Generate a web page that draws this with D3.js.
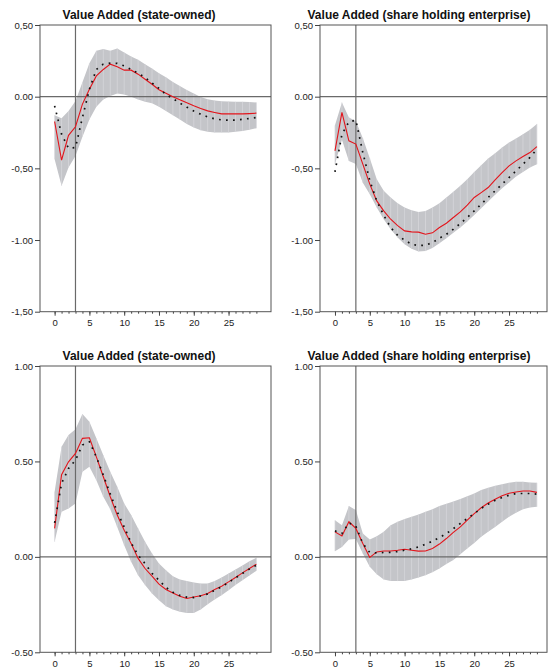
<!DOCTYPE html>
<html>
<head>
<meta charset="utf-8">
<script src="https://d3js.org/d3.v7.min.js"></script>
<style>
  body { margin: 0; background: #fff; }
  svg { display: block; font-family: "Liberation Sans", Arial, sans-serif; }
  .tick text { fill: #222; font-size: 9.5px; }
  .tick line { stroke: #444; }
  .title { font-size: 12px; font-weight: bold; fill: #111; }
</style>
</head>
<body>
<div id="chart"></div>
<script>
const width = 548;
const height = 669;

// horizon (periods) 0..29
const steps = d3.range(30);
const xTicks = [0, 5, 10, 15, 20, 25];
const shockPeriod = 3;

const titleState = "Value Added (state-owned)";
const titleShare = "Value Added (share holding enterprise)";

const topTicks = [0.5, 0, -0.5, -1, -1.5];
const topTickLabels = ["0,50", "0.00", "-0,50", "-1.00", "-1,50"];
const bottomTicks = [1, 0.5, 0, -0.5];
const bottomTickLabels = ["1.00", "0.50", "0.00", "-0.50"];

// panel 1: state-owned (top)
const stateTopRed   = [-0.173, -0.443, -0.27, -0.21, -0.052, 0.052, 0.145, 0.19, 0.227, 0.208, 0.185, 0.185, 0.157, 0.122, 0.087, 0.048, 0.024, 0.0, -0.022, -0.043, -0.064, -0.082, -0.099, -0.11, -0.12, -0.12, -0.12, -0.12, -0.118, -0.115];
const stateTopDots  = [-0.064, -0.262, -0.36, -0.355, -0.145, 0.052, 0.19, 0.227, 0.234, 0.232, 0.215, 0.19, 0.164, 0.134, 0.095, 0.058, 0.015, -0.013, -0.045, -0.073, -0.1, -0.122, -0.141, -0.155, -0.162, -0.164, -0.163, -0.158, -0.152, -0.145];
const stateTopUpper = [-0.13, -0.15, -0.1, -0.03, 0.1, 0.234, 0.32, 0.332, 0.32, 0.336, 0.308, 0.28, 0.257, 0.227, 0.196, 0.164, 0.136, 0.103, 0.075, 0.047, 0.022, -0.002, -0.018, -0.027, -0.032, -0.034, -0.036, -0.036, -0.038, -0.04];
const stateTopLower = [-0.436, -0.622, -0.494, -0.413, -0.28, -0.16, -0.07, -0.02, 0.005, 0.022, 0.015, 0.0, -0.02, -0.035, -0.045, -0.07, -0.1, -0.13, -0.16, -0.19, -0.215, -0.235, -0.245, -0.25, -0.25, -0.25, -0.245, -0.24, -0.23, -0.22];

// panel 2: share holding (top)
const shareTopRed   = [-0.378, -0.11, -0.308, -0.331, -0.471, -0.61, -0.727, -0.797, -0.855, -0.9, -0.936, -0.943, -0.945, -0.96, -0.95, -0.913, -0.883, -0.843, -0.804, -0.757, -0.703, -0.669, -0.634, -0.58, -0.53, -0.483, -0.448, -0.418, -0.39, -0.348];
const shareTopDots  = [-0.525, -0.262, -0.176, -0.164, -0.39, -0.585, -0.727, -0.827, -0.913, -0.967, -1.001, -1.029, -1.039, -1.036, -1.018, -0.987, -0.96, -0.925, -0.885, -0.843, -0.797, -0.75, -0.703, -0.657, -0.61, -0.564, -0.518, -0.471, -0.424, -0.366];
const shareTopUpper = [-0.2, -0.04, -0.145, -0.17, -0.29, -0.43, -0.576, -0.657, -0.703, -0.743, -0.773, -0.792, -0.804, -0.797, -0.773, -0.743, -0.703, -0.664, -0.622, -0.576, -0.525, -0.478, -0.431, -0.394, -0.355, -0.32, -0.292, -0.262, -0.23, -0.19];
const shareTopLower = [-0.471, -0.3, -0.448, -0.47, -0.6, -0.68, -0.773, -0.855, -0.925, -0.983, -1.029, -1.06, -1.08, -1.077, -1.055, -1.022, -0.987, -0.95, -0.913, -0.871, -0.825, -0.778, -0.731, -0.685, -0.638, -0.599, -0.557, -0.525, -0.494, -0.471];

// panel 3: state-owned (bottom)
const stateBotRed   = [0.149, 0.43, 0.498, 0.542, 0.621, 0.624, 0.524, 0.42, 0.315, 0.219, 0.14, 0.07, -0.008, -0.061, -0.101, -0.143, -0.171, -0.189, -0.206, -0.218, -0.21, -0.204, -0.192, -0.171, -0.154, -0.131, -0.108, -0.084, -0.061, -0.038];
const stateBotDots  = [0.178, 0.385, 0.463, 0.507, 0.586, 0.603, 0.524, 0.428, 0.329, 0.236, 0.157, 0.073, 0.009, -0.035, -0.087, -0.122, -0.16, -0.185, -0.202, -0.211, -0.213, -0.204, -0.194, -0.175, -0.157, -0.134, -0.11, -0.087, -0.064, -0.044];
const stateBotUpper = [0.341, 0.577, 0.638, 0.668, 0.748, 0.708, 0.621, 0.533, 0.446, 0.367, 0.28, 0.219, 0.149, 0.079, 0.018, -0.035, -0.07, -0.101, -0.119, -0.127, -0.134, -0.14, -0.14, -0.126, -0.108, -0.087, -0.066, -0.045, -0.023, -0.005];
const stateBotLower = [0.079, 0.236, 0.254, 0.28, 0.446, 0.472, 0.402, 0.315, 0.249, 0.157, 0.061, -0.026, -0.096, -0.148, -0.192, -0.227, -0.259, -0.276, -0.288, -0.294, -0.294, -0.276, -0.248, -0.224, -0.201, -0.175, -0.148, -0.122, -0.098, -0.073];

// panel 4: share holding (bottom)
const shareBotRed   = [0.131, 0.109, 0.184, 0.149, 0.07, -0.003, 0.026, 0.031, 0.031, 0.035, 0.04, 0.035, 0.03, 0.031, 0.044, 0.067, 0.096, 0.128, 0.157, 0.192, 0.227, 0.257, 0.282, 0.302, 0.32, 0.333, 0.34, 0.345, 0.345, 0.338];
const shareBotDots  = [0.136, 0.122, 0.178, 0.161, 0.07, 0.023, 0.021, 0.023, 0.024, 0.028, 0.035, 0.042, 0.052, 0.066, 0.082, 0.101, 0.122, 0.148, 0.175, 0.201, 0.227, 0.254, 0.276, 0.296, 0.311, 0.323, 0.332, 0.332, 0.332, 0.329];
const shareBotUpper = [0.192, 0.166, 0.266, 0.245, 0.122, 0.091, 0.108, 0.131, 0.166, 0.184, 0.198, 0.21, 0.222, 0.236, 0.25, 0.266, 0.278, 0.29, 0.303, 0.317, 0.332, 0.35, 0.362, 0.372, 0.381, 0.388, 0.393, 0.393, 0.39, 0.388];
const shareBotLower = [0.03, 0.052, 0.091, 0.093, 0.017, -0.052, -0.091, -0.119, -0.126, -0.127, -0.126, -0.119, -0.108, -0.096, -0.08, -0.061, -0.038, -0.017, 0.014, 0.044, 0.073, 0.105, 0.131, 0.157, 0.184, 0.21, 0.231, 0.249, 0.259, 0.262];

const svg = d3.select("#chart").append("svg")
    .attr("width", width)
    .attr("height", height);

const panels = [
  { title: titleState, titleX: 139, titleY: 18.5, left: 40, right: 271, top: 25, bottom: 311.7,
    xDomain: [-2.1, 31.1], yDomain: [-1.5, 0.5], ticks: topTicks, labels: topTickLabels,
    red: stateTopRed, dots: stateTopDots, upper: stateTopUpper, lower: stateTopLower },
  { title: titleShare, titleX: 419, titleY: 18.5, left: 320, right: 547, top: 25, bottom: 311.7,
    xDomain: [-2.15, 30.45], yDomain: [-1.5, 0.5], ticks: topTicks, labels: topTickLabels,
    red: shareTopRed, dots: shareTopDots, upper: shareTopUpper, lower: shareTopLower },
  { title: titleState, titleX: 139, titleY: 359.5, left: 40, right: 271, top: 366, bottom: 652.3,
    xDomain: [-2.1, 31.1], yDomain: [-0.5, 1.0], ticks: bottomTicks, labels: bottomTickLabels,
    red: stateBotRed, dots: stateBotDots, upper: stateBotUpper, lower: stateBotLower },
  { title: titleShare, titleX: 419, titleY: 359.5, left: 320, right: 547, top: 366, bottom: 652.3,
    xDomain: [-2.15, 30.45], yDomain: [-0.5, 1.0], ticks: bottomTicks, labels: bottomTickLabels,
    red: shareBotRed, dots: shareBotDots, upper: shareBotUpper, lower: shareBotLower }
];

panels.forEach(drawPanel);

function drawPanel(p) {
    const x = d3.scaleLinear().domain(p.xDomain).range([p.left, p.right]);
    const y = d3.scaleLinear().domain(p.yDomain).range([p.bottom, p.top]);
    const g = svg.append("g");

    // confidence band
    const band = d3.area()
        .x(i => x(i))
        .y0(i => y(p.lower[i]))
        .y1(i => y(p.upper[i]));
    g.append("path")
        .datum(steps)
        .attr("d", band)
        .attr("fill", "#c4c5c9");

    // faint seams between band segments
    g.append("g").selectAll("line")
        .data(steps)
        .join("line")
        .attr("x1", i => x(i)).attr("x2", i => x(i))
        .attr("y1", i => y(p.lower[i])).attr("y2", i => y(p.upper[i]))
        .attr("stroke", "#d8d8dc")
        .attr("stroke-width", 0.7);

    // zero line and shock line
    g.append("line")
        .attr("x1", p.left).attr("x2", p.right)
        .attr("y1", y(0)).attr("y2", y(0))
        .attr("stroke", "#6a6a6a").attr("stroke-width", 1.2);
    g.append("line")
        .attr("x1", x(shockPeriod)).attr("x2", x(shockPeriod))
        .attr("y1", p.top).attr("y2", p.bottom)
        .attr("stroke", "#6a6a6a").attr("stroke-width", 1.2);

    const line = vals => d3.line().x(i => x(i)).y(i => y(vals[i]));

    g.append("path")
        .datum(steps)
        .attr("d", line(p.red))
        .attr("fill", "none")
        .attr("stroke", "#e3141b")
        .attr("stroke-width", 1.1);

    g.append("path")
        .datum(steps)
        .attr("d", line(p.dots))
        .attr("fill", "none")
        .attr("stroke", "#111")
        .attr("stroke-width", 1.7)
        .attr("stroke-dasharray", "1.7 5.3");

    // frame
    g.append("rect")
        .attr("x", p.left).attr("y", p.top)
        .attr("width", p.right - p.left).attr("height", p.bottom - p.top)
        .attr("fill", "none")
        .attr("stroke", "#555")
        .attr("stroke-width", 1);

    // axes
    const yAxis = d3.axisLeft(y)
        .tickValues(p.ticks)
        .tickSize(5)
        .tickPadding(2)
        .tickFormat((d, i) => p.labels[i]);
    g.append("g")
        .attr("transform", `translate(${p.left},0)`)
        .call(yAxis)
        .call(a => a.select(".domain").remove());

    const xMinor = d3.axisBottom(x).tickValues(steps).tickSize(2).tickFormat("");
    g.append("g")
        .attr("transform", `translate(0,${p.bottom})`)
        .call(xMinor)
        .call(a => a.select(".domain").remove());

    const xAxis = d3.axisBottom(x).tickValues(xTicks).tickSize(4).tickPadding(4);
    g.append("g")
        .attr("transform", `translate(0,${p.bottom})`)
        .call(xAxis)
        .call(a => a.select(".domain").remove());

    g.selectAll(".tick line").attr("stroke", "#444");

    svg.append("text")
        .attr("class", "title")
        .attr("x", p.titleX)
        .attr("y", p.titleY)
        .attr("text-anchor", "middle")
        .text(p.title);
}
</script>
</body>
</html>
